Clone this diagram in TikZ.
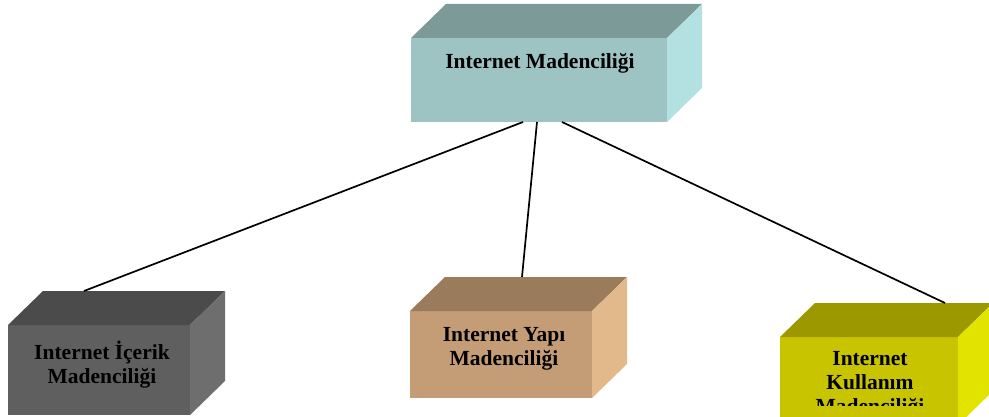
\documentclass[tikz,border=0pt]{standalone}
\usepackage{fontspec}
\setmainfont{Liberation Serif}
\usetikzlibrary{positioning,calc}

\definecolor{tealfront}{HTML}{9DC3C2}
\definecolor{tealtop}{HTML}{7B9A98}
\definecolor{tealside}{HTML}{B3E1E1}
\definecolor{greyfront}{HTML}{5F5F5F}
\definecolor{greytop}{HTML}{4B4B4B}
\definecolor{greyside}{HTML}{6E6E6E}
\definecolor{tanfront}{HTML}{C49C76}
\definecolor{tantop}{HTML}{9A7B5C}
\definecolor{tanside}{HTML}{E2B98B}
\definecolor{olivefront}{HTML}{C8C400}
\definecolor{olivetop}{HTML}{9C9900}
\definecolor{oliveside}{HTML}{E3E300}

% top and right faces of a box, hung on its front node
\newcommand{\cubesides}[3]{%
  \fill[#2] (#1.north west) -- ++(35,34) -- ($(#1.north east)+(35,34)$) -- (#1.north east) -- cycle;
  \fill[#3] (#1.north east) -- ++(35,34) -- ($(#1.south east)+(35,34)$) -- (#1.south east) -- cycle;
}

\begin{document}
\begin{tikzpicture}[
    x=1pt,y=1pt,
    front/.style={inner sep=0pt,outer sep=0pt,minimum width=182pt,minimum height=87pt},
    lbl/.style={inner sep=0pt,align=center,font=\bfseries\fontsize{21.5}{24}\selectfont},
    link/.style={line width=1.7pt}
  ]
    \useasboundingbox (0,0) rectangle (989,416);
    \fill[white] (0,0) rectangle (989,416);

    % fronts
    \node[front,fill=tealfront,minimum width=256pt,minimum height=84pt] (main) at (539,336) {};
    \node[front,fill=greyfront,minimum height=90pt] (icerik) at (99,46) {};
    \node[front,fill=tanfront] (yapi) at (501,61.5) {};
    \node[front,fill=olivefront,minimum width=178pt,minimum height=88pt] (kullanim) at (869,35) {};

    \cubesides{main}{tealtop}{tealside}
    \cubesides{icerik}{greytop}{greyside}
    \cubesides{yapi}{tantop}{tanside}
    \cubesides{kullanim}{olivetop}{oliveside}

    % labels
    \node[lbl] (mainlbl) at (540,353) {Internet Madenciliği};
    \node[lbl] (iceriklbl) at (102,51) {Internet İçerik\\Madenciliği};
    \node[lbl] (yapilbl) at (504,67.5) {Internet Yapı\\Madenciliği};
    \begin{scope}
      \clip (kullanim.north west) rectangle ($(kullanim.east)+(0,-24)$);
      \node[lbl] (kullanimlbl) at (870,31) {Internet\\Kullanım\\Madenciliği};
    \end{scope}

    % links
    \draw[link] ($(main.south)+(-16,0)$) -- ($(icerik.north west)+(76,34)$);
    \draw[link] ($(main.south)+(-2,0)$) -- ($(yapi.north west)+(112,34)$);
    \draw[link] ($(main.south)+(23,0)$) -- ($(kullanim.north west)+(165,34)$);
  \end{tikzpicture}
\end{document}
